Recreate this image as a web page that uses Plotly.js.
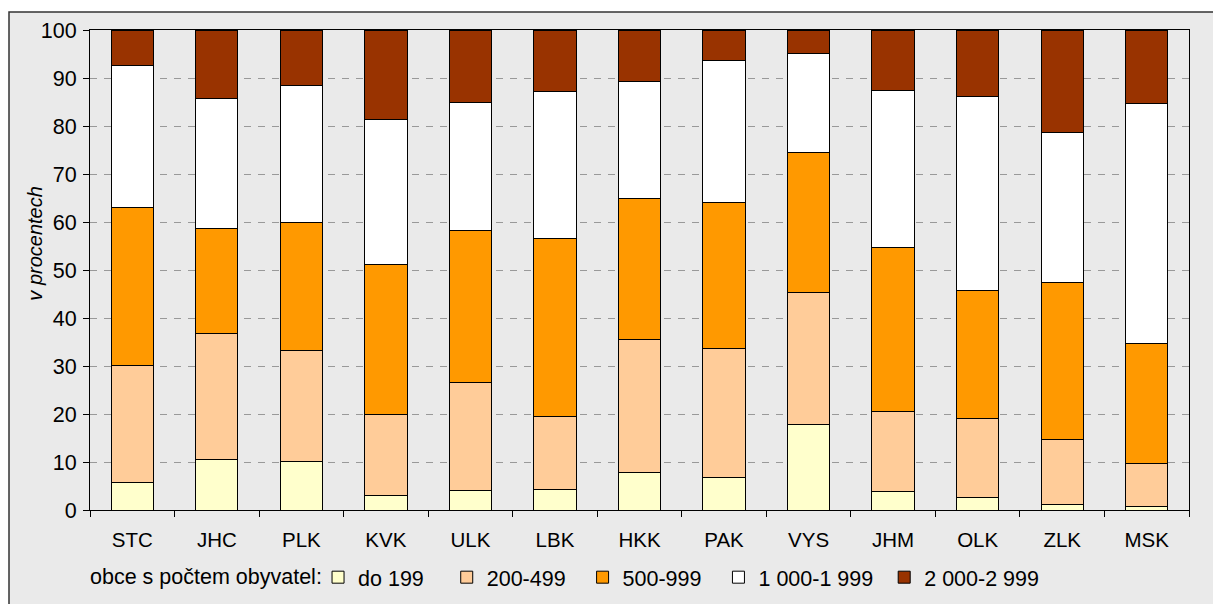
<!DOCTYPE html>
<html>
<head>
<meta charset="utf-8">
<script src="https://cdn.plot.ly/plotly-3.0.1.min.js"></script>
<style>html,body{margin:0;padding:0;background:#fff;}#chart{width:1213px;height:604px;}</style>
</head>
<body>
<div id="chart"></div>
<script>
const categories = ["STC","JHC","PLK","KVK","ULK","LBK","HKK","PAK","VYS","JHM","OLK","ZLK","MSK"];
const seriesNames = ["do 199","200-499","500-999","1 000-1 999","2 000-2 999"];
const legendLabel = "obce s počtem obyvatel:";
const yTitle = "v procentech";
const do199   = [5.7, 10.6, 10.1, 3.1, 4.0, 4.3, 7.9, 6.7, 17.9, 3.9, 2.7, 1.2, 0.8];
const s200499 = [24.4, 26.1, 23.2, 16.8, 22.5, 15.1, 27.6, 26.9, 27.5, 16.6, 16.3, 13.4, 8.8];
const s500999 = [32.9, 21.9, 26.5, 31.2, 31.8, 37.1, 29.4, 30.5, 29.0, 34.1, 26.8, 32.8, 25.1];
const s1000   = [29.7, 27.1, 28.7, 30.2, 26.5, 30.6, 24.4, 29.6, 20.7, 32.9, 40.4, 31.3, 50.0];
const s2000   = [7.3, 14.3, 11.5, 18.7, 15.2, 12.9, 10.7, 6.3, 4.9, 12.5, 13.8, 21.3, 15.3];
const yTicks = [0,10,20,30,40,50,60,70,80,90,100];
const colors = ["#FFFFCC","#FFCC99","#FF9900","#FFFFFF","#993300"];
const allSeries = [do199, s200499, s500999, s1000, s2000];
const legendPad = ["\u00a0\u00a0\u00a0", "\u00a0\u00a0", "\u00a0\u00a0", "\u00a0", ""];

const FONT = "Liberation Sans, Arial, sans-serif";
const traces = allSeries.map((vals, i) => ({
  type: "bar",
  name: seriesNames[i] + legendPad[i],
  x: categories,
  y: vals,
  marker: {color: colors[i], line: {color: "#000", width: 1}},
  hoverinfo: "x+y+name"
}));

const layout = {
  width: 1213, height: 604,
  barmode: "stack",
  bargap: 0.5,
  margin: {l: 90, r: 24, t: 30, b: 94, pad: 0, autoexpand: false},
  paper_bgcolor: "#FFFFFF",
  plot_bgcolor: "#FFFFFF",
  font: {family: FONT, color: "#000", size: 20},
  showlegend: true,
  legend: {
    orientation: "h",
    x: 0.2075, xanchor: "left",
    y: -0.14, yanchor: "middle",
    bgcolor: "rgba(0,0,0,0)",
    font: {family: FONT, size: 21.5, color: "#000"},
    itemwidth: 30,
    traceorder: "normal"
  },
  xaxis: {
    type: "category",
    tickson: "boundaries",
    ticks: "outside", ticklen: 6, tickcolor: "#000", tickwidth: 1,
    ticklabelstandoff: 11,
    automargin: false,
    showline: true, linecolor: "#000", linewidth: 1, mirror: true,
    showgrid: false,
    tickfont: {family: FONT, size: 20.5, color: "#000"},
    fixedrange: true
  },
  yaxis: {
    range: [0, 100],
    tickvals: yTicks,
    ticks: "outside", ticklen: 6, tickcolor: "#000", tickwidth: 1,
    ticklabelstandoff: 2,
    automargin: false,
    showline: true, linecolor: "#000", linewidth: 1, mirror: true,
    showgrid: true, gridcolor: "#999999", gridwidth: 1, griddash: "7px,7px",
    zeroline: false,
    tickfont: {family: FONT, size: 21.5, color: "#000"},
    fixedrange: true
  },
  shapes: [{
    type: "rect", xref: "paper", yref: "paper", layer: "below",
    x0: -0.0737, x1: 1.2, y0: -0.3, y1: 1.0375,
    fillcolor: "#EAEAEA", line: {color: "#333333", width: 1.5}
  }],
  annotations: [{
    text: "<i>" + yTitle + "</i>",
    xref: "paper", yref: "paper",
    x: -0.05, y: 0.555, xanchor: "center", yanchor: "middle",
    textangle: -90, showarrow: false,
    font: {family: FONT, size: 20, color: "#000"}
  }, {
    text: legendLabel,
    xref: "paper", yref: "paper",
    x: -0.0018, y: -0.14, xanchor: "left", yanchor: "middle",
    showarrow: false,
    font: {family: FONT, size: 21.5, color: "#000"}
  }]
};

Plotly.newPlot("chart", traces, layout, {displayModeBar: false, staticPlot: true});
</script>
</body>
</html>
